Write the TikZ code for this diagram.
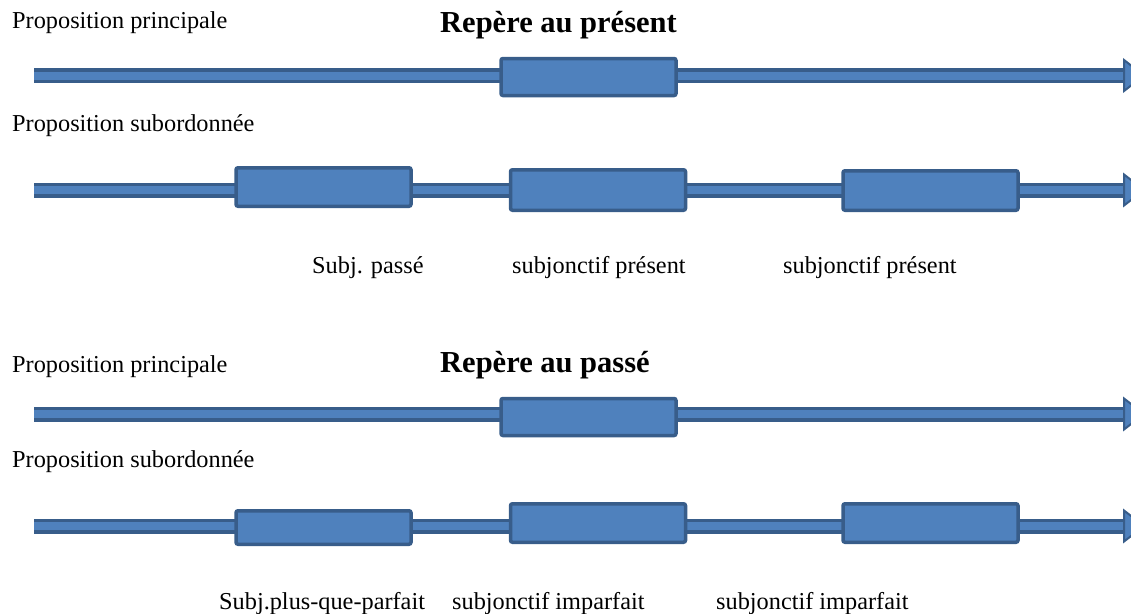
\documentclass[tikz,border=0pt]{standalone}
\usepackage{fontspec}
\setmainfont{Liberation Serif}
\usetikzlibrary{positioning}

\definecolor{fillblue}{HTML}{4F81BD}
\definecolor{bordblue}{HTML}{385D8A}

\tikzset{
  box/.style={draw=bordblue, fill=fillblue, line width=3.5, rounded corners=2,
    minimum width=175, minimum height=37, inner sep=0},
  shaft/.style={draw=bordblue, line width=3.5, double=fillblue, double distance=8},
  head/.style={fill=fillblue, draw=bordblue, line width=2},
  txt/.style={font=\fontsize{24.3}{28}\selectfont, inner sep=0, anchor=base west},
  titletxt/.style={font=\bfseries\fontsize{30.5}{36}\selectfont, inner sep=0, anchor=base west}
}

\begin{document}
\begin{tikzpicture}[x=1pt, y=-1pt]
  \useasboundingbox (0,0) rectangle (1131,613);
  \clip (0,0) rectangle (1131,613);

  % Repere au present
  \node[txt] (pp1) at (12,28) {Proposition principale};
  \node[titletxt] (rep1) at (440,32) {Repère au présent};
  \coordinate (s1) at (34,75.5);
  \coordinate (e1) at (1124,75.5);
  \draw[shaft] (s1) -- (e1);
  \draw[head] (e1) ++(0,-15.5) -- ++(20,15.5) -- ++(-20,15.5) -- cycle;
  \node[box] (m1) at (588.5,77) {};

  \node[txt] (ps1) at (12,131) {Proposition subordonnée};
  \coordinate (s2) at (34,190);
  \coordinate (e2) at (1124,190);
  \draw[shaft] (s2) -- (e2);
  \draw[head] (e2) ++(0,-15.5) -- ++(20,15.5) -- ++(-20,15.5) -- cycle;
  \node[box, minimum height=38.5] (a2) at (323.5,187) {};
  \node[box, minimum height=40.5] (b2) at (598,190) {};
  \node[box, minimum height=39.5] (c2) at (930.5,190.5) {};

  \node[txt] (la2) at (312,273) {Subj. passé};
  \node[txt] (lb2) at (512,273) {subjonctif présent};
  \node[txt] (lc2) at (783,273) {subjonctif présent};

  % Repere au passe
  \node[txt] (pp2) at (12,372) {Proposition principale};
  \node[titletxt] (rep2) at (440,372) {Repère au passé};
  \coordinate (s3) at (34,414);
  \coordinate (e3) at (1124,414);
  \draw[shaft] (s3) -- (e3);
  \draw[head] (e3) ++(0,-15.5) -- ++(20,15.5) -- ++(-20,15.5) -- cycle;
  \node[box] (m3) at (588.5,417) {};

  \node[txt] (ps3) at (12,467) {Proposition subordonnée};
  \coordinate (s4) at (34,526);
  \coordinate (e4) at (1124,526);
  \draw[shaft] (s4) -- (e4);
  \draw[head] (e4) ++(0,-15.5) -- ++(20,15.5) -- ++(-20,15.5) -- cycle;
  \node[box, minimum height=33.5] (a4) at (323.5,527.5) {};
  \node[box, minimum height=38.5] (b4) at (598,523) {};
  \node[box, minimum height=38.5] (c4) at (930.5,523) {};

  \node[txt] (la4) at (219,609) {Subj.plus-que-parfait};
  \node[txt] (lb4) at (452,609) {subjonctif imparfait};
  \node[txt] (lc4) at (716,609) {subjonctif imparfait};
\end{tikzpicture}
\end{document}
